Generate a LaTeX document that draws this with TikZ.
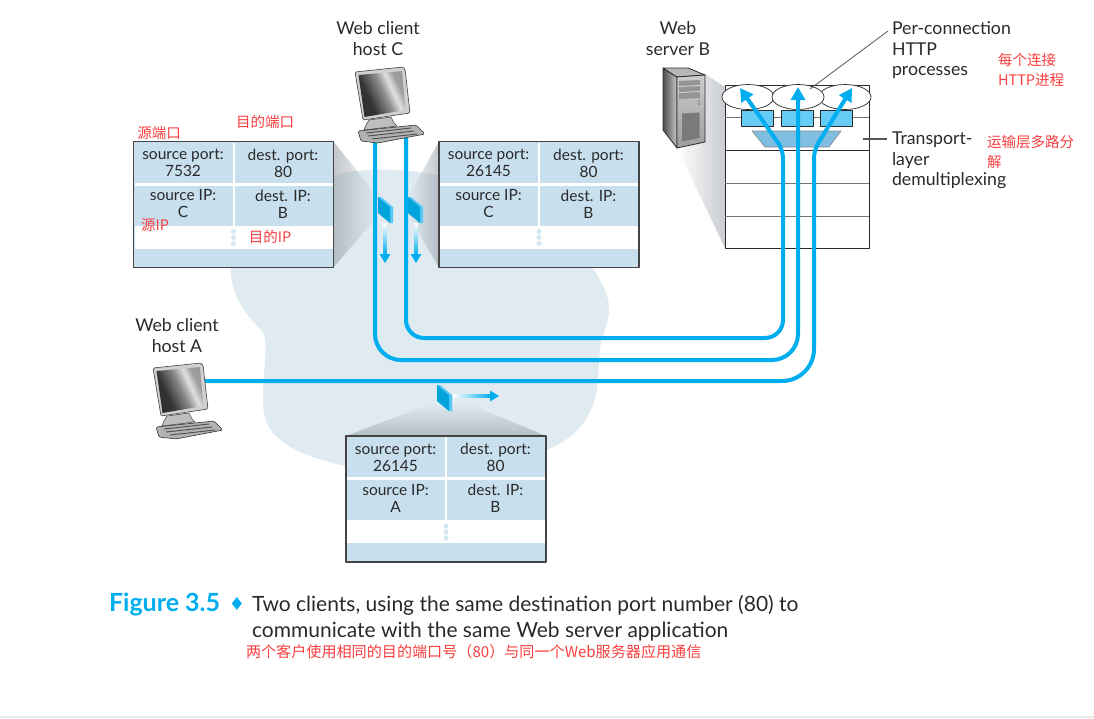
\documentclass[tikz,border=0pt]{standalone}
\usepackage{fontspec}
\setmainfont{Lato}
\newfontfamily\cjk{Noto Sans CJK SC}
\newfontfamily\dejavu{DejaVu Sans}
\usetikzlibrary{arrows.meta,fadings,backgrounds,shapes.geometric}
\definecolor{cable}{HTML}{00AEEF}
\definecolor{cellblue}{HTML}{C8DFEE}
\definecolor{cloudc}{HTML}{DFEAF1}
\definecolor{ink}{HTML}{2A2A2A}
\definecolor{redlab}{HTML}{FA3E3E}
\definecolor{edgec}{HTML}{444444}
\definecolor{conec}{HTML}{9CA3AB}
\definecolor{pktdark}{HTML}{00A3DA}
\definecolor{pktlight}{HTML}{55C8F5}
\definecolor{procbox}{HTML}{66CCF5}
\definecolor{demux}{HTML}{7FBEE0}
\pgfdeclarehorizontalshading{screenshade}{100bp}{color(0bp)=(black!85);color(35bp)=(black!80);color(52bp)=(black!45);color(62bp)=(black!12);color(70bp)=(black!38);color(100bp)=(black!45)}
\tikzset{
  lbl/.style={inner sep=0pt,outer sep=0pt,text=ink,font=\fontsize{17.7}{20.5}\selectfont,align=center},
  lblleft/.style={lbl,align=left,anchor=north west},
  celltxt/.style={inner sep=0pt,outer sep=0pt,text=ink,font=\fontsize{15.5}{17}\selectfont,align=center},
  redtxt/.style={inner sep=0pt,outer sep=0pt,text=redlab,font=\cjk\fontsize{14.5}{20}\selectfont,align=left},
  frame/.style={draw=edgec,line width=1.3pt,fill=cellblue,inner sep=0pt,outer sep=0pt,minimum width=200pt,minimum height=126pt,anchor=north west},
  cablepath/.style={draw=cable,line width=4pt},
  cablearrow/.style={cablepath,-{Triangle[width=14pt,length=13pt]}},
  cone/.style={fill=conec,fill opacity=.62},
  flowhead/.style={fill=cable},
  proc/.style={draw=ink,line width=.7pt,fill=white,ellipse,minimum width=52pt,minimum height=25pt,inner sep=0pt},
  procrect/.style={draw=ink,line width=.7pt,fill=procbox,inner sep=0pt,minimum width=32pt,minimum height=16pt},
  tier/.style={line width=1pt,draw=#1},
  leader/.style={line width=#1,draw=ink!80},
  capfont/.style={inner sep=0pt,outer sep=0pt,text=ink,anchor=base west,font=\fontsize{21}{24}\selectfont},
  host/.pic={
    \fill[black!18,draw=black!75,line width=.6pt,rounded corners=1.5pt] (5,12)--(53,7)--(55,9)--(60,53)--(13,60)--cycle;
    \shade[shading=screenshade,shading angle=25] (8.5,15)--(52,11)--(55.5,50)--(14.5,57)--cycle;
    \fill[black!25,draw=black!70,line width=.6pt] (19,60)--(41,57)--(44,63)--(47,66)--(14,70)--(16,65)--cycle;
    \fill[black!30,draw=black!80,line width=.6pt,rounded corners=1.5pt] (8,71)--(66,65)--(75,74)--(28,83)--(11,81)--cycle;
    \draw[black!70,line width=.9pt] (16,73)--(61,68) (18,76)--(64,71) (22,79)--(67,74);
  }
}
\newcommand{\pktable}[7]{%
  \begin{scope}[shift={(#2,#3)}]
    \node[frame] (#1) at (0,0) {};
    \fill[white] (1,84) rectangle (199.3,107);
    \fill[white] (99,1) rectangle (101,84);
    \fill[white] (1,41) rectangle (199.3,44);
    \fill[cellblue!75!white] (100,90) circle (2.6) (100,96) circle (2.6) (100,102) circle (2.6);
    \node[celltxt] (#1-a) at (49.5,21.5) {source port:\\#4};
    \node[celltxt] (#1-b) at (149.5,21.5) {dest. port:\\#5};
    \node[celltxt] (#1-c) at (49.5,62.5) {source IP:\\#6};
    \node[celltxt] (#1-d) at (149.5,62.5) {dest. IP:\\#7};
  \end{scope}}
\newcommand{\pktflag}[2]{%
  \begin{scope}[shift={(#1,#2)}]
    \fill[pktlight] (0,0)--(3,0)--(15,10)--(15,26)--(12,26)--(12,10)--cycle;
    \fill[pktdark] (0,0)--(12,10)--(12,26)--(0,16)--cycle;
  \end{scope}}
\newcommand{\flowdown}[2]{%
  \shade[top color=white,bottom color=cable] (#1-1.8,#2) rectangle (#1+1.8,#2+32);
  \fill[flowhead] (#1-5.5,#2+31) -- (#1+5.5,#2+31) -- (#1,#2+40) -- cycle;}
\begin{document}
\begin{tikzpicture}[x=1pt,y=-1pt,line join=round]
\useasboundingbox (0,0) rectangle (1094,718);
\fill[black!8] (0,715.5) rectangle (1094,718);

% packet tables
\pktable{tone}{133.5}{141.5}{7532}{80}{C}{B}
\pktable{ttwo}{439}{141.5}{26145}{80}{C}{B}
\pktable{tthree}{346}{436}{26145}{80}{A}{B}

% network cloud and funnels behind everything
\begin{scope}[on background layer]
  \fill[cloudc] (333,176) .. controls (355,169) and (385,168) .. (420,172)
     -- (520,190) -- (593,268) .. controls (603,285) and (610,298) .. (609,310)
     .. controls (608,328) and (601,335) .. (600,350)
     .. controls (598,370) and (599,385) .. (595,398)
     .. controls (588,425) and (570,440) .. (547,450)
     -- (450,470) -- (345,466)
     .. controls (320,460) and (290,452) .. (273,433)
     .. controls (263,420) and (263,410) .. (263,395)
     .. controls (263,375) and (267,350) .. (265,340)
     .. controls (264,330) and (258,328) .. (250,318)
     .. controls (238,303) and (231,290) .. (230,262) -- (300,200) -- cycle;
  \fill[cone,path fading=east] (tone.north east) -- (378,197) -- (376,218) -- (tone.south east) -- cycle;
  \fill[cone,path fading=west] (ttwo.north west) -- (408,197) -- (410,218) -- (ttwo.south west) -- cycle;
  \fill[cone,path fading=north] (tthree.north west) -- (433,403) -- (467,403) -- (tthree.north east) -- cycle;
  \fill[cone,fill opacity=.55,path fading=west] (705,74) -- (725,87) -- (725,248) -- (677,148) -- cycle;
\end{scope}

% server rack diagram
\node[draw=ink,line width=1pt,fill=white,inner sep=0pt,outer sep=0pt,minimum width=144pt,minimum height=163pt,anchor=north west] (rack) at (725,85) {};
\draw[tier=black!55] (rack.west |- 0,117) -- (rack.east |- 0,117);
\draw[tier=ink] (rack.west |- 0,150) -- (rack.east |- 0,150);
\draw[tier=black!55] (rack.west |- 0,183) -- (rack.east |- 0,183);
\draw[tier=black!55] (rack.west |- 0,216) -- (rack.east |- 0,216);
\node[proc] (pa) at (748,97) {};
\node[proc] (pc) at (845,97) {};
\node[proc] (pb) at (798,97) {};
\node[procrect] (ra) at (757,118) {};
\node[procrect] (rb) at (797,118) {};
\node[procrect] (rc) at (836.5,118) {};
\filldraw[fill=demux,draw=black!45,line width=.6pt] (752,131) -- (841,131) -- (829,147) -- (765,147) -- cycle;

% server icon
\shade[left color=black!70,right color=black!22,draw=ink,line width=.8pt] (663,68) -- (677,77) -- (677,148) -- (663,130) -- cycle;
\filldraw[fill=black!28,draw=ink,line width=.8pt] (663,68) -- (688,68) -- (705,75) -- (677,77) -- cycle;
\shade[top color=black!20,bottom color=black!38,draw=ink,line width=.8pt] (677,77) -- (705,75) -- (705,142) -- (677,148) -- cycle;
\fill[black!42] (679,81) -- (700,80) -- (700,98) -- (679,99) -- cycle;
\draw[black!15,line width=.8pt] (679,86.5) -- (700,85.5) (679,92.5) -- (700,91.5);
\fill[black!60] (699,101) circle (.9) (699,104) circle (.9);
\fill[black!52] (682,113.5) -- (699.5,112.5) -- (699.5,138) -- (682,141.5) -- cycle;

% cables
\coordinate (cfroma) at (375,135);
\coordinate (cfromb) at (406,135);
\coordinate (afrom) at (204,381);
\coordinate (tipa) at (740,88);
\coordinate (tipb) at (798,87);
\coordinate (tipc) at (852,88);
\draw[cablearrow] (cfromb)
   [rounded corners=18pt] -- (406,338) -- (783,338)
   [rounded corners=8pt] -- (783,150) -- (tipa);
\draw[cablearrow] (cfroma)
   [rounded corners=26pt] -- (375,360) -- (798,360) -- (tipb);
\draw[cablearrow] (afrom)
   [rounded corners=32pt] -- (814,381)
   [rounded corners=8pt] -- (814,150) -- (tipc);

% hosts
\pic at (350,60) {host};
\pic at (148,356) {host};

% packets in flight
\pktflag{378}{197}
\pktflag{408}{197}
\flowdown{385}{223}
\flowdown{416}{223}
\pktflag{437}{385}
\shade[left color=white,right color=cable] (453,394.2) rectangle (491,397.8);
\fill[flowhead] (490,390.5) -- (490,401.5) -- (499,396) -- cycle;

% labels
\node[lbl] (hostc) at (378,38.5) {Web client\\host C};
\node[lbl] (srvb) at (678,38.5) {Web\\server B};
\node[lbl] (hosta) at (177,335.5) {Web client\\host A};
\node[lblleft] (perconn) at (892,22) {Per-connection\\HTTP\\processes};
\node[lblleft] (transp) at (892,132) {Transport-\\layer\\demultiplexing};
\coordinate (leadproc) at (810,89);
\coordinate (leadrack) at (863,139);
\coordinate (leadproctext) at (888,31);
\coordinate (leadracktext) at (887,139);
\draw[leader=.8pt] (leadproc) -- (leadproctext);
\draw[leader=1.1pt] (leadrack) -- (leadracktext);

% red annotations
\node[redtxt] (rsp) at (159,133) {源端口};
\node[redtxt] (rdp) at (265,122) {目的端口};
\node[redtxt] (rsi) at (155,225) {源IP};
\node[redtxt] (rdi) at (270,237) {目的IP};
\node[redtxt,anchor=north west] (rpc) at (998,53.5) {每个连接\\HTTP进程};
\node[redtxt,anchor=north west] (rtd) at (987,135.5) {运输层多路分\\解};

% caption
\node[inner sep=0pt,outer sep=0pt,anchor=base west,text=cable,font=\fontsize{25}{28}\selectfont\bfseries] (figno) at (109,611) {Figure 3.5};
\node[inner sep=0pt,outer sep=0pt,anchor=base,text=cable,font=\dejavu\fontsize{18}{20}\selectfont] (diam) at (237,610) {♦};
\node[capfont] (capa) at (252,611) {Two clients, using the same destination port number (80) to};
\node[capfont] (capb) at (252,637) {communicate with the same Web server application};
\node[inner sep=0pt,outer sep=0pt,text=redlab,anchor=base west,font=\cjk\fontsize{15.1}{18}\selectfont] (capc) at (246,657) {两个客户使用相同的目的端口号（80）与同一个Web服务器应用通信};
\end{tikzpicture}
\end{document}
